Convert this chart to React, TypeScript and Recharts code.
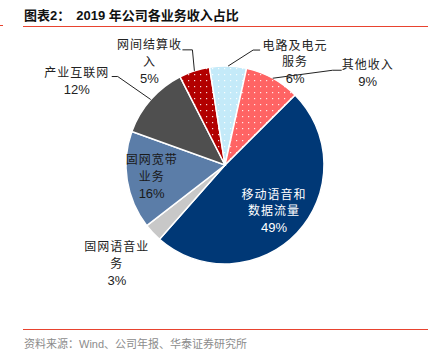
import { PieChart, Pie, Cell } from 'recharts';

const NAMES = ['移动语音和数据流量', '固网语音业务', '固网宽带业务', '产业互联网', '网间结算收入', '电路及电元服务', '其他收入'];
const VALUES = [49, 3, 16, 12, 5, 6, 9];
const FILLS = ['#003876', '#C8C8C8', '#5B7DA8', '#4F4F4F', 'url(#dotDarkRed)', 'url(#dotLightBlue)', 'url(#dotRed)'];

// label layout: chars per line, and where the text / leader sit relative to the slice edge
type LabelCfg = {
  wrap: number;
  inside?: number; // radius factor for labels drawn inside the slice
  text?: [number, number];
  elbow?: [number, number];
  run?: number;
  color: string;
};
const LABELS: LabelCfg[] = [
  { wrap: 5, inside: 0.68, color: '#ffffff' },
  { wrap: 5, text: [-36, 31], color: '#222' },
  { wrap: 4, inside: 0.75, color: '#1a1a1a' },
  { wrap: 5, text: [-74, -18], elbow: [-33, -23], run: -6, color: '#222' },
  { wrap: 5, text: [-45, -9], elbow: [-2, -21], run: -10, color: '#222' },
  { wrap: 5, text: [67, -4], elbow: [25, -16], run: 7, color: '#222' },
  { wrap: 4, text: [95, -5], elbow: [60, -8], run: 9, color: '#222' },
];

const data = NAMES.map((name, i) => ({ name, value: VALUES[i] }));

const FONT = "'Liberation Sans', Arial, 'Noto Sans CJK SC', sans-serif";
const RAD = Math.PI / 180;

function splitName(s: string, n: number) {
  const out: string[] = [];
  for (let i = 0; i < s.length; i += n) out.push(s.slice(i, i + n));
  return out;
}

function renderLabel(props: any) {
  const { cx, cy, midAngle, outerRadius, index } = props;
  const cfg = LABELS[index];
  const lines = [...splitName(NAMES[index], cfg.wrap), `${VALUES[index]}%`];
  const cos = Math.cos(-midAngle * RAD);
  const sin = Math.sin(-midAngle * RAD);
  let tx: number, ty: number;
  let leader: string | null = null;
  if (cfg.inside) {
    tx = cx + outerRadius * cfg.inside * cos;
    ty = cy + outerRadius * cfg.inside * sin;
  } else {
    const ex = cx + outerRadius * cos;
    const ey = cy + outerRadius * sin;
    tx = ex + cfg.text![0];
    ty = ey + cfg.text![1];
    if (cfg.elbow) {
      const bx = ex + cfg.elbow[0];
      const by = ey + cfg.elbow[1];
      leader = `M${ex},${ey}L${bx},${by}L${bx + (cfg.run || 0)},${by}`;
    }
  }
  const lh = 16.5;
  const top = ty - ((lines.length - 1) * lh) / 2;
  return (
    <g key={`lbl-${index}`}>
      {leader && <path d={leader} stroke="#222" strokeWidth={1} fill="none" />}
      {lines.map((ln, i) => {
        const isPct = i === lines.length - 1;
        return (
          <text
            key={i}
            x={tx}
            y={top + i * lh}
            textAnchor="middle"
            dominantBaseline="central"
            fill={cfg.color}
            fontSize={isPct ? 13 : 12}
            letterSpacing={isPct ? 0 : 1}
            fontFamily={FONT}
          >
            {ln}
          </text>
        );
      })}
    </g>
  );
}

export default function App() {
  return (
    <div style={{ position: 'absolute', left: 0, top: 0, width: 428, height: 362, background: '#fff', fontFamily: FONT }}>
      <div style={{ position: 'absolute', left: 24, top: 8, fontSize: 13, fontWeight: 'bold', lineHeight: '16px', color: '#111', whiteSpace: 'nowrap' }}>
        <span>图表2：</span>
        <span style={{ marginLeft: 6 }}>2019 年公司各业务收入占比</span>
      </div>
      <div style={{ position: 'absolute', left: 23, top: 26, width: 405, height: 1, background: '#E8432F' }} />
      <div style={{ position: 'absolute', left: 0, top: 25, width: 3, height: 1, background: '#E8432F' }} />
      <div style={{ position: 'absolute', left: 0, top: 0 }}>
        <PieChart width={428} height={362} margin={{ top: 0, right: 0, bottom: 0, left: 0 }}>
          <defs>
            <pattern id="dotDarkRed" width="6" height="6" patternUnits="userSpaceOnUse">
              <rect width="6" height="6" fill="#B20000" />
              <rect x="2" y="2" width="1.2" height="1.2" fill="#fff" opacity="0.85" />
            </pattern>
            <pattern id="dotLightBlue" width="6" height="6" patternUnits="userSpaceOnUse">
              <rect width="6" height="6" fill="#C4EAF9" />
              <rect x="2" y="2" width="1.2" height="1.2" fill="#fff" opacity="0.9" />
            </pattern>
            <pattern id="dotRed" width="6" height="6" patternUnits="userSpaceOnUse">
              <rect width="6" height="6" fill="#FF6464" />
              <rect x="2" y="2" width="1.2" height="1.2" fill="#fff" opacity="0.85" />
            </pattern>
          </defs>
          <Pie
            data={data}
            dataKey="value"
            nameKey="name"
            cx={225}
            cy={165}
            outerRadius={99}
            startAngle={45}
            endAngle={-315}
            stroke="#fff"
            strokeWidth={1.5}
            label={renderLabel}
            labelLine={false}
            isAnimationActive={false}
          >
            {data.map((_, idx) => (
              <Cell key={idx} fill={FILLS[idx]} />
            ))}
          </Pie>
        </PieChart>
      </div>
      <div style={{ position: 'absolute', left: 23, top: 329, width: 405, height: 1, background: '#E8432F' }} />
      <div style={{ position: 'absolute', left: 24, top: 337, fontSize: 11, lineHeight: '14px', color: '#8c8c8c', whiteSpace: 'nowrap' }}>
        资料来源：Wind、公司年报、华泰证券研究所
      </div>
    </div>
  );
}
